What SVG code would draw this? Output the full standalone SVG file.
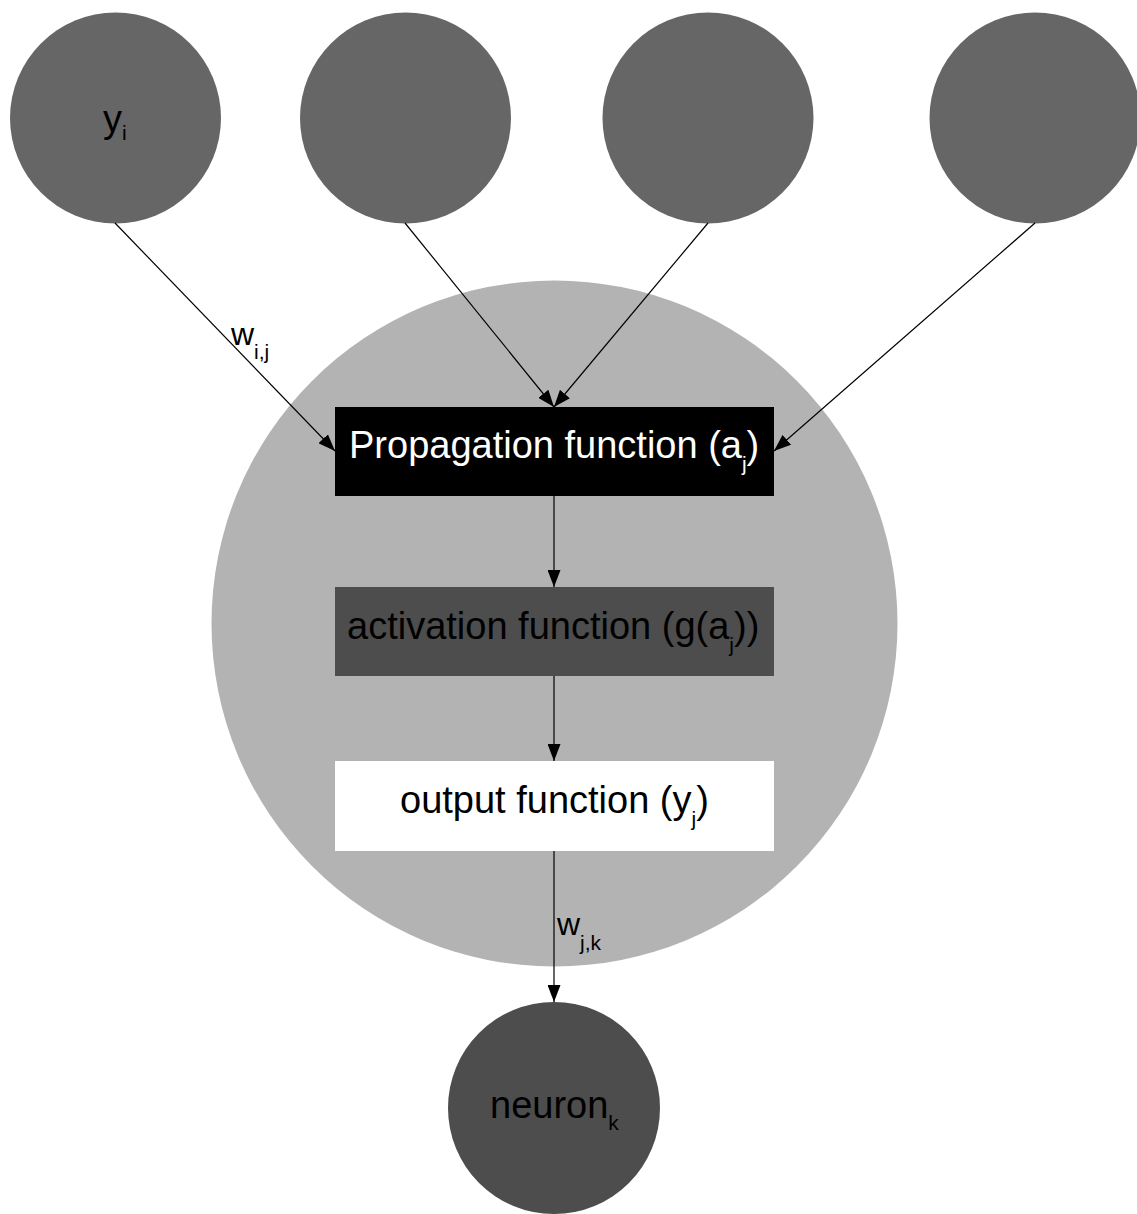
<svg xmlns="http://www.w3.org/2000/svg" width="1137" height="1214" viewBox="0 0 1137 1214">
<style>
text{font-family:"Liberation Sans",Arial,sans-serif;font-size:38px;}
.sub{font-size:21px;}
.lbl{font-size:32px;}
.conn{stroke:#000;stroke-width:1.2;fill:none;marker-end:url(#arr);}
</style>
<defs>
<marker id="arr" markerUnits="userSpaceOnUse" markerWidth="18" markerHeight="13" refX="17" refY="6.5" orient="auto">
<path d="M0,0 L17,6.5 L0,13 z" fill="#000"/>
</marker>
</defs>
<rect width="1137" height="1214" fill="#fff"/>
<g id="neuron-j"><circle cx="554.5" cy="623.5" r="343" fill="#b3b3b3"/></g>
<g id="input1"><circle cx="115.5" cy="118" r="105.5" fill="#666"/>
<text x="103" y="132" fill="#000">y<tspan class="sub" dy="8">i</tspan></text></g>
<g id="input2"><circle cx="405.5" cy="118" r="105.5" fill="#666"/></g>
<g id="input3"><circle cx="708" cy="118" r="105.5" fill="#666"/></g>
<g id="input4"><circle cx="1035" cy="118" r="105.5" fill="#666"/></g>
<g id="propagation"><rect x="335" y="407" width="439" height="89" fill="#000"/>
<text x="349" y="458" fill="#fff">Propagation function (a<tspan class="sub" dy="13">j</tspan><tspan dy="-13">)</tspan></text></g>
<g id="activation"><rect x="335" y="587" width="439" height="89" fill="#4d4d4d"/>
<text x="347" y="639" fill="#000">activation function (g(a<tspan class="sub" dy="13">j</tspan><tspan dy="-13">))</tspan></text></g>
<g id="output"><rect x="335" y="761" width="439" height="90" fill="#fff"/>
<text x="400" y="813" fill="#000">output function (y<tspan class="sub" dy="13">j</tspan><tspan dy="-13">)</tspan></text></g>
<g id="neuron-k"><circle cx="554" cy="1108" r="106" fill="#4d4d4d"/>
<text x="490" y="1118" fill="#000">neuron<tspan class="sub" dy="12">k</tspan></text></g>
<g id="connectors">
<line class="conn" x1="115" y1="223" x2="335" y2="451"/>
<line class="conn" x1="405" y1="223" x2="554" y2="407"/>
<line class="conn" x1="708" y1="223" x2="554" y2="407"/>
<line class="conn" x1="1035" y1="223" x2="774" y2="451"/>
<line class="conn" x1="554" y1="496" x2="554" y2="587"/>
<line class="conn" x1="554" y1="676" x2="554" y2="761"/>
<line class="conn" x1="554" y1="851" x2="554" y2="1002"/>
<text class="lbl" x="231" y="345">w<tspan class="sub" dy="14">i,j</tspan></text>
<text class="lbl" x="557" y="935">w<tspan class="sub" dy="15">j,k</tspan></text>
</g>
</svg>
